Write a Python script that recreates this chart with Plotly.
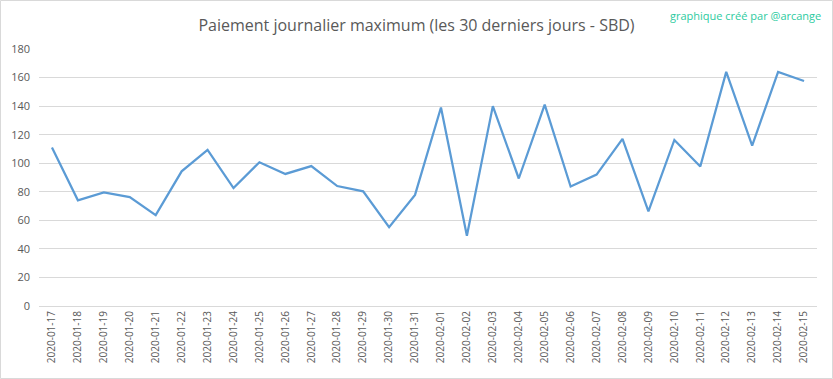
import plotly.graph_objects as go

dates = ["2020-01-17", "2020-01-18", "2020-01-19", "2020-01-20", "2020-01-21", "2020-01-22",
         "2020-01-23", "2020-01-24", "2020-01-25", "2020-01-26", "2020-01-27", "2020-01-28",
         "2020-01-29", "2020-01-30", "2020-01-31", "2020-02-01", "2020-02-02", "2020-02-03",
         "2020-02-04", "2020-02-05", "2020-02-06", "2020-02-07", "2020-02-08", "2020-02-09",
         "2020-02-10", "2020-02-11", "2020-02-12", "2020-02-13", "2020-02-14", "2020-02-15"]
payout = [111, 74, 79.6, 76.3, 63.7, 94.3, 109.3, 82.6, 100.7, 92.5, 98, 84, 80.3, 55.2, 77.8,
          139, 49.2, 140, 89.3, 141, 83.7, 92, 117, 66.2, 116.3, 97.7, 164, 112.4, 164, 157.6]
y_ticks = [0, 20, 40, 60, 80, 100, 120, 140, 160, 180]

title_text = "Paiement journalier maximum (les 30 derniers jours - SBD)"
credit_text = "graphique créé par @arcange"

W, H = 833, 379
ml, mr, mt, mb = 39, 16, 49, 73
pw, ph = W - ml - mr, H - mt - mb

fig = go.Figure()
fig.add_trace(go.Scatter(
    x=dates, y=payout, mode="lines",
    line=dict(color="#5b9bd5", width=2.25),
    hoverinfo="x+y",
))

fig.update_layout(
    width=W, height=H,
    margin=dict(l=ml, r=mr, t=mt, b=mb, autoexpand=False),
    paper_bgcolor="white", plot_bgcolor="white",
    showlegend=False,
    title=dict(text=title_text, x=0.5, xanchor="center", y=1 - 25 / H, yanchor="middle",
               font=dict(family="Open Sans", size=16, color="#595959")),
    font=dict(family="Open Sans", color="#595959"),
    xaxis=dict(type="category", range=[-0.5, len(dates) - 0.5], tickangle=-90,
               showgrid=False, zeroline=False, showline=False, ticks="", automargin=False,
               ticklabelstandoff=2,
               tickfont=dict(family="Open Sans", size=10, color="#595959")),
    yaxis=dict(range=[0, 180], tickvals=y_ticks, showgrid=True, gridcolor="#d9d9d9",
               gridwidth=1, zeroline=True, zerolinecolor="#d9d9d9", zerolinewidth=1,
               showline=False, ticks="", automargin=False, ticklabelstandoff=8,
               tickfont=dict(family="Open Sans", size=11, color="#595959")),
    annotations=[dict(text=credit_text, xref="paper", yref="paper",
                      x=(W - 10 - ml) / pw, y=(H - 15 - mb) / ph,
                      xanchor="right", yanchor="middle", showarrow=False,
                      font=dict(family="Open Sans", size=11, color="#2ccba0"))],
    shapes=[dict(type="rect", xref="paper", yref="paper",
                 x0=(0.5 - ml) / pw, x1=(W - 0.5 - ml) / pw,
                 y0=(0.5 - mb) / ph, y1=(H - 0.5 - mb) / ph,
                 line=dict(color="#d9d9d9", width=1), layer="below")],
)

fig.write_html("out.html", config={"displayModeBar": False},
               post_script="document.body.style.margin='0';")
